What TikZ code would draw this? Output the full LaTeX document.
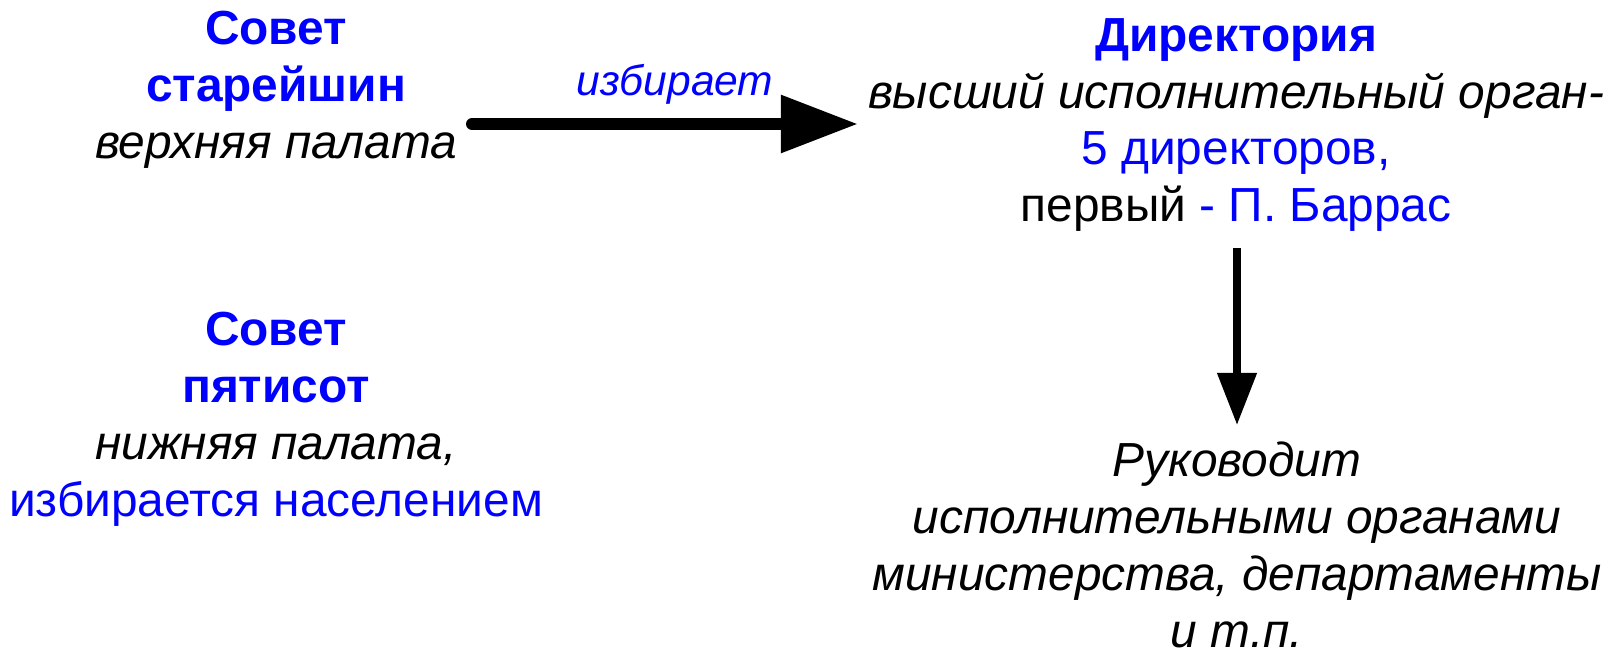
\documentclass[tikz,border=0pt]{standalone}
\usepackage{fontspec}
\setmainfont{Liberation Sans}
\usetikzlibrary{arrows.meta}
\definecolor{councilblue}{RGB}{0,0,255}
\begin{document}
\begin{tikzpicture}
	[x=0.01cm,y=-0.01cm,
		block/.style={align=center,font=\fontsize{13.6}{16.2}\selectfont,inner sep=0pt},
		elect/.style={line width=0.12cm,line cap=round,-{Triangle[length=0.77cm,width=0.55cm]}},
		lead/.style={line width=0.075cm,-{Triangle[length=0.52cm,width=0.38cm]}}]
	\useasboundingbox (0,0) rectangle (1616,649);
	% left column
	\node[block] (elder) at (276,90)
		{\textcolor{councilblue}{\bfseries Совет}\\
		 \textcolor{councilblue}{\bfseries старейшин}\\
		 \itshape верхняя палата};
	\node[block] (five) at (276,419)
		{\textcolor{councilblue}{\bfseries Совет}\\
		 \textcolor{councilblue}{\bfseries пятисот}\\
		 \itshape нижняя палата,\\
		 \textcolor{councilblue}{избирается населением}};
	% right column
	\node[block] (direct) at (1236,125)
		{\textcolor{councilblue}{\bfseries Директория}\\
		 \itshape высший исполнительный орган-\\
		 \textcolor{councilblue}{5 директоров,}\\
		 первый \textcolor{councilblue}{- П. Баррас}};
	\node[block] (rule) at (1237,545)
		{\itshape Руководит\\
		 \itshape исполнительными органами\\
		 \itshape министерства, департаменты\\
		 \itshape и т.п.};
	% connectors
	\coordinate (ea) at (472,124);
	\coordinate (eb) at (858,124);
	\draw[elect] (ea) -- (eb)
		node[midway,above=0.02cm,xshift=0.1cm,font=\fontsize{12.1}{14}\selectfont\itshape,text=councilblue] (elects) {избирает};
	\coordinate (da) at (1237,248);
	\coordinate (db) at (1237,425);
	\draw[lead] (da) -- (db);
\end{tikzpicture}
\end{document}
